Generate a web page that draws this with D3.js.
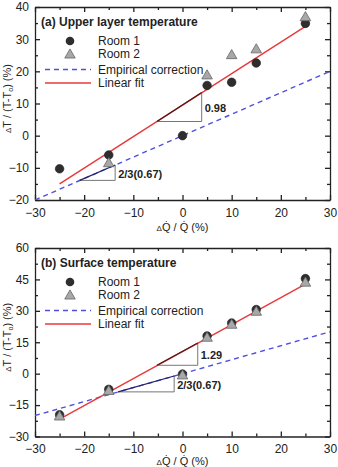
<!DOCTYPE html>
<html lang="en">
<head>
<meta charset="UTF-8">
<title>Temperature response to heat release change</title>
<script src="https://cdn.jsdelivr.net/npm/d3@7/dist/d3.min.js"></script>
<style>
  body { margin: 0; background: #fff; }
  svg text { font-family: "Liberation Sans", Arial, sans-serif; fill: #222; }
</style>
</head>
<body>
<div id="chart"></div>
<script>
// ---- data ----
const dq = [-25, -15, 0, 5, 10, 15, 25];

// (a) upper layer temperature
const upperRoom1 = [-10.3, -6, 0, 15.6, 16.6, 22.6, 34.9];
const upperRoom2X = [-15, 5, 10, 15, 25];
const upperRoom2 = [-8.4, 18.9, 25.2, 27, 37];
const upperFitX = [-25, 25];
const upperFitY = [-15, 34];
const upperSlopeX = [-5.2, 3.9];   // 0.98 triangle
const upperSlopeY = [4.4, 13.4];
const upperEmpSlopeX = [-20.9, -13.7]; // 2/3 triangle
const upperEmpSlopeY = [-13.9, -9.1];

// (b) surface temperature
const surfRoom1 = [-19.6, -7.5, -0.2, 18, 24.2, 30.6, 45.4];
const surfRoom2 = [-20.2, -8, -0.6, 17.4, 23.6, 29.8, 43.7];
const surfFitX = [-25, 25];
const surfFitY = [-21.7, 42.8];
const surfSlopeX = [-5.2, 3.1];    // 1.29 triangle
const surfSlopeY = [4.0, 14.6];
const surfEmpSlopeX = [-13.1, -1.7];
const surfEmpSlopeY = [-8.7, -1.1];

// empirical correction (slope 2/3)
const empX = [-30, 30];
const empY = [-20, 20];

const xTicks = [-30, -20, -10, 0, 10, 20, 30];
const upperYTicks = [-20, -10, 0, 10, 20, 30, 40];
const surfYTicks = [-30, -15, 0, 15, 30, 45, 60];

const legendNames = ["Room 1", "Room 2", "Empirical correction", "Linear fit"];

const W = 338, H = 467;
const svg = d3.select("#chart").append("svg")
  .attr("width", W).attr("height", H);

const red = "#e8383a", blue = "#5050e0";

function drawPanel(p) {
  const g = svg.append("g");
  const x = d3.scaleLinear().domain([-30, 30]).range([p.left, p.right]);
  const y = d3.scaleLinear().domain(p.yDomain).range([p.bottom, p.top]);

  // clip for lines
  g.append("clipPath").attr("id", p.id + "-clip")
    .append("rect").attr("x", p.left).attr("y", p.top)
    .attr("width", p.right - p.left).attr("height", p.bottom - p.top);

  // axes (ticks inward on all four sides)
  const minorX = d3.range(-30, 30.1, 5).filter(v => !xTicks.includes(v));
  const minorY = d3.range(p.yDomain[0], p.yDomain[1] + 0.1, p.yStep / 2).filter(v => !p.yTicks.includes(v));

  const bottom = g.append("g").attr("transform", `translate(0,${p.bottom})`)
    .call(d3.axisBottom(x).tickValues(xTicks).tickSizeInner(-5).tickSizeOuter(0).tickPadding(8));
  bottom.selectAll("text").attr("font-size", 12).attr("fill", "#333");
  g.append("g").attr("transform", `translate(0,${p.bottom})`)
    .call(d3.axisBottom(x).tickValues(minorX).tickSizeInner(-3).tickSizeOuter(0).tickFormat(""))
    .call(a => a.select(".domain").remove());
  g.append("g").attr("transform", `translate(0,${p.top})`)
    .call(d3.axisTop(x).tickValues(xTicks).tickSizeInner(-5).tickSizeOuter(0).tickFormat(""));
  g.append("g").attr("transform", `translate(0,${p.top})`)
    .call(d3.axisTop(x).tickValues(minorX).tickSizeInner(-3).tickSizeOuter(0).tickFormat(""))
    .call(a => a.select(".domain").remove());

  const left = g.append("g").attr("transform", `translate(${p.left},0)`)
    .call(d3.axisLeft(y).tickValues(p.yTicks).tickSizeInner(-5).tickSizeOuter(0).tickPadding(6));
  left.selectAll("text").attr("font-size", 12).attr("fill", "#333");
  g.append("g").attr("transform", `translate(${p.left},0)`)
    .call(d3.axisLeft(y).tickValues(minorY).tickSizeInner(-3).tickSizeOuter(0).tickFormat(""))
    .call(a => a.select(".domain").remove());
  g.append("g").attr("transform", `translate(${p.right},0)`)
    .call(d3.axisRight(y).tickValues(p.yTicks).tickSizeInner(-5).tickSizeOuter(0).tickFormat(""));
  g.append("g").attr("transform", `translate(${p.right},0)`)
    .call(d3.axisRight(y).tickValues(minorY).tickSizeInner(-3).tickSizeOuter(0).tickFormat(""))
    .call(a => a.select(".domain").remove());
  g.selectAll(".domain, .tick line").attr("stroke", "#222").attr("stroke-width", 1.3);
  g.selectAll(".tick text").attr("font-family", "Liberation Sans, Arial, sans-serif");

  const line = d3.line().x(d => x(d[0])).y(d => y(d[1]));
  const plot = g.append("g").attr("clip-path", `url(#${p.id}-clip)`);

  // empirical correction
  plot.append("path").datum(d3.zip(empX, empY)).attr("d", line)
    .attr("fill", "none").attr("stroke", blue).attr("stroke-width", 1.4)
    .attr("stroke-dasharray", "5,4");
  // linear fit
  plot.append("path").datum(d3.zip(p.fitX, p.fitY)).attr("d", line)
    .attr("fill", "none").attr("stroke", red).attr("stroke-width", 1.4);

  // slope triangles
  function slopeTri(sx, sy, hypColor, label) {
    plot.append("path")
      .attr("d", `M${x(sx[0])},${y(sy[0])}L${x(sx[1])},${y(sy[0])}L${x(sx[1])},${y(sy[1])}`)
      .attr("fill", "none").attr("stroke", "#666").attr("stroke-width", 0.9);
    plot.append("path").datum([[sx[0], sy[0]], [sx[1], sy[1]]]).attr("d", line)
      .attr("fill", "none").attr("stroke", hypColor).attr("stroke-width", 1.2);
    g.append("text").attr("x", x(sx[1]) + 3).attr("y", y((sy[0] + sy[1]) / 2) + 1)
      .attr("dy", "0.35em").attr("font-size", 11).attr("font-weight", "bold")
      .text(label);
  }
  slopeTri(p.slopeX, p.slopeY, "#4a1a1a", p.slopeLabel);
  slopeTri(p.empSlopeX, p.empSlopeY, "#22226a", "2/3(0.67)");

  // markers
  const tri = d3.symbol().type(d3.symbolTriangle).size(48);
  g.append("g").selectAll("circle")
    .data(d3.zip(dq, p.room1)).join("circle")
    .attr("cx", d => x(d[0])).attr("cy", d => y(d[1])).attr("r", 4.3)
    .attr("fill", "#2e2e2e").attr("stroke", "#1a1a1a").attr("stroke-width", 0.6);
  g.append("g").selectAll("path")
    .data(d3.zip(p.room2X, p.room2)).join("path")
    .attr("d", tri)
    .attr("transform", d => `translate(${x(d[0])},${y(d[1]) + 1})`)
    .attr("fill", "#a8a8a8").attr("stroke", "#666").attr("stroke-width", 0.8);

  // title and legend
  g.append("text").attr("x", p.left + 6).attr("y", p.top + 15).attr("dy", "0.35em")
    .attr("font-size", 12).attr("font-weight", "bold").text(p.title);
  const rows = [34, 47, 62.5, 76].map(v => p.top + v);
  const lx = 70, tx = 98;
  g.append("circle").attr("cx", lx).attr("cy", rows[0]).attr("r", 4.3).attr("fill", "#2e2e2e");
  g.append("path").attr("d", tri).attr("transform", `translate(${lx},${rows[1] + 1})`)
    .attr("fill", "#a8a8a8").attr("stroke", "#666").attr("stroke-width", 0.8);
  g.append("line").attr("x1", 45).attr("x2", 91).attr("y1", rows[2]).attr("y2", rows[2])
    .attr("stroke", blue).attr("stroke-width", 1.4).attr("stroke-dasharray", "5,4");
  g.append("line").attr("x1", 45).attr("x2", 91).attr("y1", rows[3]).attr("y2", rows[3])
    .attr("stroke", red).attr("stroke-width", 1.4);
  legendNames.forEach((n, i) => {
    g.append("text").attr("x", tx).attr("y", rows[i]).attr("dy", "0.35em")
      .attr("font-size", 12).text(n);
  });

  // axis titles
  const xl = g.append("text").attr("x", (p.left + p.right) / 2)
    .attr("y", Math.min(p.bottom + 31, H - 2))
    .attr("text-anchor", "middle").attr("font-size", 11).attr("fill", "#333");
  xl.append("tspan").attr("font-size", 8).text("\u0394");
  xl.append("tspan").text("Q\u0307 / Q\u0307 (%)");

  const yl = g.append("text")
    .attr("transform", `translate(11,${(p.top + p.bottom) / 2 - 5}) rotate(-90)`)
    .attr("text-anchor", "middle").attr("font-size", 11).attr("fill", "#333");
  yl.append("tspan").attr("font-size", 8).text("\u0394");
  yl.append("tspan").text("T / (T-T");
  yl.append("tspan").attr("font-size", 7).attr("dy", 2).text("o");
  yl.append("tspan").attr("dy", -2).text(") (%)");
}

drawPanel({
  id: "upper", left: 35, right: 330, top: 7, bottom: 200,
  yDomain: [-20, 40], yTicks: upperYTicks, yStep: 10,
  room1: upperRoom1, room2X: upperRoom2X, room2: upperRoom2,
  fitX: upperFitX, fitY: upperFitY,
  slopeX: upperSlopeX, slopeY: upperSlopeY, slopeLabel: "0.98",
  empSlopeX: upperEmpSlopeX, empSlopeY: upperEmpSlopeY,
  title: "(a) Upper layer temperature"
});

drawPanel({
  id: "surf", left: 35, right: 330, top: 248, bottom: 436.5,
  yDomain: [-30, 60], yTicks: surfYTicks, yStep: 15,
  room1: surfRoom1, room2X: dq, room2: surfRoom2,
  fitX: surfFitX, fitY: surfFitY,
  slopeX: surfSlopeX, slopeY: surfSlopeY, slopeLabel: "1.29",
  empSlopeX: surfEmpSlopeX, empSlopeY: surfEmpSlopeY,
  title: "(b) Surface temperature"
});
</script>
</body>
</html>
